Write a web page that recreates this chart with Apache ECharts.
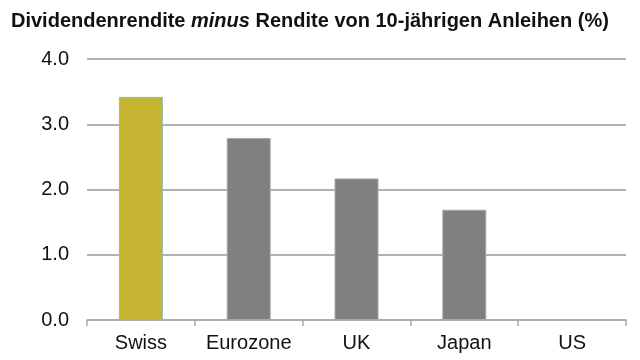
<!DOCTYPE html>
<html><head><meta charset="utf-8">
<script src="https://cdn.jsdelivr.net/npm/echarts@6/dist/echarts.min.js"></script>
<style>html,body{margin:0;padding:0;background:#fff}#c{width:640px;height:360px}</style>
</head><body><div id="c"></div>
<script>
var categories = ['Swiss', 'Eurozone', 'UK', 'Japan', 'US'];
var values = [3.42, 2.79, 2.17, 1.69, -0.04];
var yTicks = [0, 1, 2, 3, 4];

var chart = echarts.init(document.getElementById('c'), null, {renderer: 'canvas'});
var font = '"Liberation Sans", Arial, sans-serif';
chart.setOption({
  animation: false,
  backgroundColor: '#fff',
  title: {
    text: '{b|Dividendenrendite }{i|minus}{b| Rendite von 10-jährigen Anleihen (%)}',
    left: 6, top: 6,
    textStyle: {
      rich: {
        b: {fontFamily: font, fontWeight: 'bold', fontSize: 20, color: '#111'},
        i: {fontFamily: font, fontWeight: 'bold', fontStyle: 'italic', fontSize: 20, color: '#111'}
      }
    }
  },
  grid: {left: 87, right: 14, top: 59, bottom: 40, containLabel: false},
  xAxis: {
    type: 'category', data: categories,
    axisLine: {lineStyle: {color: '#aaa', width: 1.5}},
    axisTick: {show: true, alignWithLabel: false, length: 6, lineStyle: {color: '#aaa', width: 1.5}},
    axisLabel: {color: '#111', fontFamily: font, fontSize: 20, margin: 13, interval: 0}
  },
  yAxis: {
    type: 'value', min: yTicks[0], max: yTicks[yTicks.length - 1], interval: 1,
    axisLine: {show: false}, axisTick: {show: false},
    splitLine: {lineStyle: {color: '#999', width: 1.5}},
    axisLabel: {color: '#111', fontFamily: font, fontSize: 20, margin: 18,
      formatter: function (v) { return v.toFixed(1); }}
  },
  series: [{
    type: 'bar', barWidth: 44, z: 5,
    data: values.map(function (v, i) {
      return i === 0
        ? {value: v, itemStyle: {color: '#C4B432', borderColor: '#8fbcbb', borderWidth: 1}}
        : {value: v, itemStyle: {color: '#808080', borderColor: '#a8a8a8', borderWidth: i === 4 ? 0 : 1}};
    })
  }]
});
</script></body></html>
